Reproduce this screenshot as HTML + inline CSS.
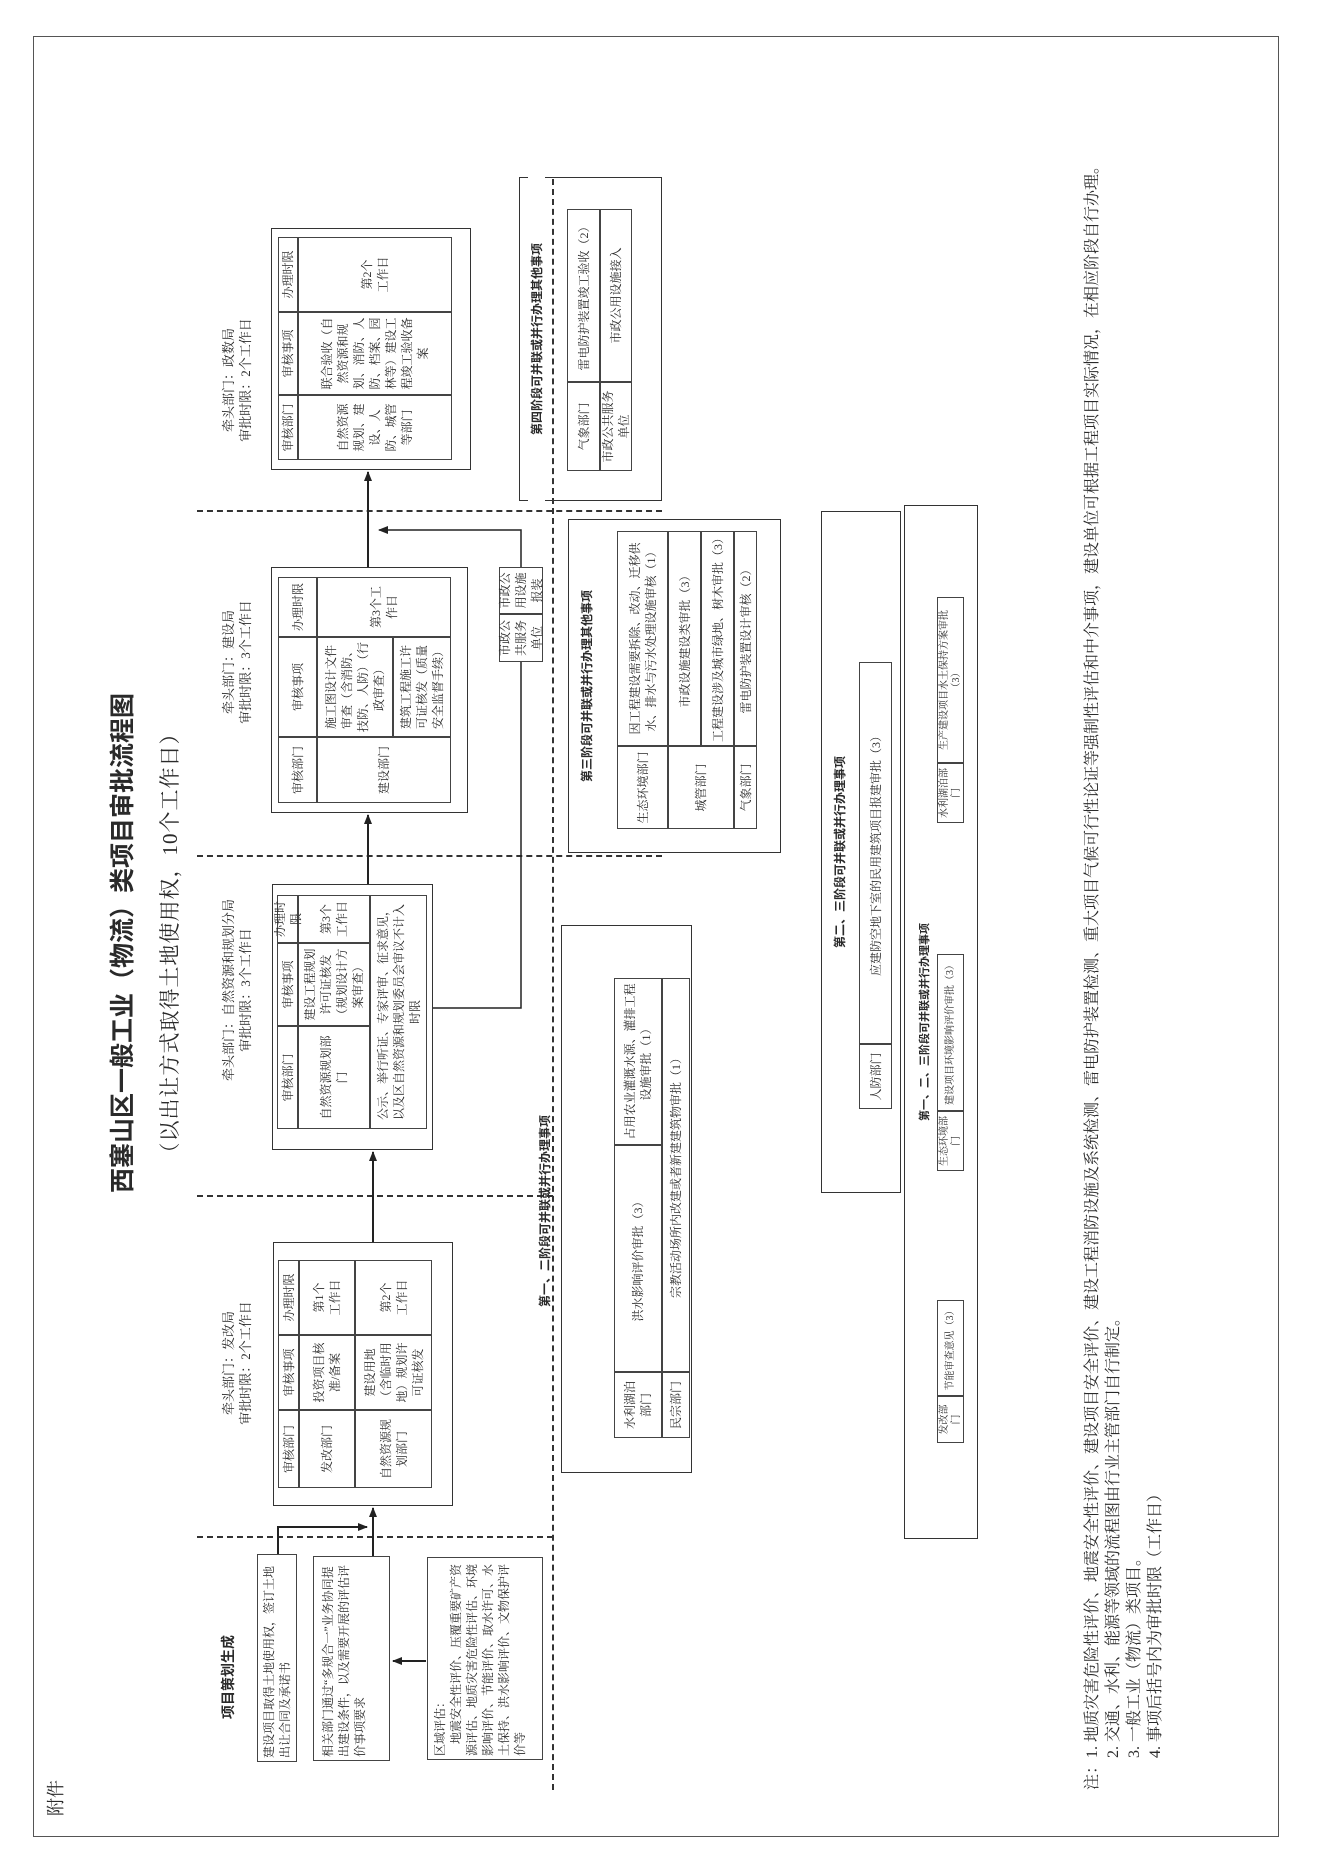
<!DOCTYPE html>
<html><head><meta charset="utf-8">
<style>
html,body{margin:0;padding:0;background:#fff;}
body{width:1324px;height:1871px;overflow:hidden;position:relative;}
#L{position:absolute;left:0;top:0;width:1871px;height:1324px;transform-origin:0 0;transform:translate(0,1871px) rotate(-90deg);font-family:"Liberation Serif","Noto Serif CJK SC",serif;color:#2a2a2a;}
.b{position:absolute;border:1.5px solid #333;box-sizing:border-box;}
.c{position:absolute;border:1px solid #444;box-sizing:border-box;display:flex;align-items:center;justify-content:center;text-align:center;font-size:12px;line-height:16px;padding:1px 3px;}
.t{position:absolute;text-align:center;white-space:nowrap;}
.lead{position:absolute;font-size:13px;line-height:17px;text-align:center;white-space:nowrap;}
.pt{position:absolute;font-family:"Liberation Sans","Noto Sans CJK SC",sans-serif;font-weight:bold;font-size:12px;white-space:nowrap;text-align:center;}
.sm{font-size:10px;line-height:12px;}
</style></head><body>
<div id="L">
<!-- outer border -->
<div class="b" style="left:34px;top:33px;width:1801px;height:1246px;border-color:#555;border-width:1px;"></div>
<div class="t" style="left:55px;top:42px;font-size:18px;">附件</div>
<div class="t" style="left:628px;top:103px;width:600px;font-family:'Liberation Sans','Noto Sans CJK SC',sans-serif;font-weight:bold;font-size:25px;">西塞山区一般工业（物流）类项目审批流程图</div>
<div class="t" style="left:628px;top:154px;width:600px;font-size:21px;letter-spacing:1px;">（以出让方式取得土地使用权，10个工作日）</div>

<!-- project planning -->
<div class="t" style="left:134px;top:218px;width:120px;font-family:'Liberation Sans','Noto Sans CJK SC',sans-serif;font-weight:bold;font-size:14px;">项目策划生成</div>
<div class="c" style="left:109px;top:257px;width:208px;height:40px;justify-content:flex-start;text-align:left;">建设项目取得土地使用权，签订土地出让合同及承诺书</div>
<div class="c" style="left:110px;top:313px;width:205px;height:77px;justify-content:flex-start;text-align:left;align-items:flex-start;padding-top:6px;">相关部门通过“多规合一”业务协同提出建设条件，以及需要开展的评估评价事项要求</div>
<div class="c" style="left:111px;top:427px;width:203px;height:116px;justify-content:flex-start;text-align:left;align-items:flex-start;padding-top:4px;">区域评估：<br>　地震安全性评价、压覆重要矿产资源评估、地质灾害危险性评估、环境影响评价、节能评价、取水许可、水土保持、洪水影响评价、文物保护评价等</div>

<!-- dashed lines -->
<div style="position:absolute;left:333px;top:197px;height:356px;border-left:2px dashed #333;"></div>
<div style="position:absolute;left:674px;top:197px;height:356px;border-left:2px dashed #333;"></div>
<div style="position:absolute;left:1014px;top:197px;height:465px;border-left:2px dashed #333;"></div>
<div style="position:absolute;left:1359px;top:197px;height:465px;border-left:2px dashed #333;"></div>
<div style="position:absolute;left:81px;top:552px;width:1611px;border-top:2px dashed #333;"></div>

<!-- stage 1 -->
<div class="lead" style="left:428px;top:220px;width:160px;">牵头部门：发改局<br>审批时限：2个工作日</div>
<div class="b" style="left:365px;top:273px;width:264px;height:180px;"></div>
<div class="c" style="left:383px;top:278px;width:78px;height:21px;">审核部门</div>
<div class="c" style="left:461px;top:278px;width:75px;height:21px;">审核事项</div>
<div class="c" style="left:536px;top:278px;width:75px;height:21px;">办理时限</div>
<div class="c" style="left:383px;top:299px;width:78px;height:56px;">发改部门</div>
<div class="c" style="left:461px;top:299px;width:75px;height:56px;">投资项目核准/备案</div>
<div class="c" style="left:536px;top:299px;width:75px;height:56px;">第1个<br>工作日</div>
<div class="c" style="left:383px;top:355px;width:78px;height:77px;">自然资源规划部门</div>
<div class="c" style="left:461px;top:355px;width:75px;height:77px;">建设用地（含临时用地）规划许可证核发</div>
<div class="c" style="left:536px;top:355px;width:75px;height:77px;">第2个<br>工作日</div>

<!-- stage 2 -->
<div class="lead" style="left:764px;top:220px;width:234px;">牵头部门：自然资源和规划分局<br>审批时限：3个工作日</div>
<div class="b" style="left:721px;top:272px;width:266px;height:161px;"></div>
<div class="c" style="left:742px;top:277px;width:103px;height:21px;">审核部门</div>
<div class="c" style="left:845px;top:277px;width:83px;height:21px;">审核事项</div>
<div class="c" style="left:928px;top:277px;width:48px;height:21px;">办理时限</div>
<div class="c" style="left:742px;top:298px;width:103px;height:72px;">自然资源规划部门</div>
<div class="c" style="left:845px;top:298px;width:83px;height:72px;">建设工程规划许可证核发（规划设计方案审查）</div>
<div class="c" style="left:928px;top:298px;width:48px;height:72px;">第3个<br>工作日</div>
<div class="c" style="left:742px;top:370px;width:234px;height:57px;">公示、举行听证、专家评审、征求意见，以及区自然资源和规划委员会审议不计入时限</div>

<!-- stage 3 -->
<div class="lead" style="left:1129px;top:220px;width:160px;">牵头部门：建设局<br>审批时限：3个工作日</div>
<div class="b" style="left:1058px;top:271px;width:246px;height:197px;"></div>
<div class="c" style="left:1068px;top:278px;width:66px;height:39px;">审核部门</div>
<div class="c" style="left:1134px;top:278px;width:100px;height:39px;">审核事项</div>
<div class="c" style="left:1234px;top:278px;width:60px;height:39px;">办理时限</div>
<div class="c" style="left:1068px;top:317px;width:66px;height:134px;">建设部门</div>
<div class="c" style="left:1134px;top:317px;width:100px;height:76px;">施工图设计文件审查（含消防、技防、人防）（行政审查）</div>
<div class="c" style="left:1134px;top:393px;width:100px;height:58px;">建筑工程施工许可证核发（质量安全监督手续）</div>
<div class="c" style="left:1234px;top:317px;width:60px;height:134px;">第3个工<br>作日</div>

<!-- stage 4 -->
<div class="lead" style="left:1411px;top:220px;width:160px;">牵头部门：政数局<br>审批时限：2个工作日</div>
<div class="b" style="left:1401px;top:271px;width:242px;height:200px;"></div>
<div class="c" style="left:1411px;top:278px;width:65px;height:20px;">审核部门</div>
<div class="c" style="left:1476px;top:278px;width:83px;height:20px;">审核事项</div>
<div class="c" style="left:1559px;top:278px;width:75px;height:20px;">办理时限</div>
<div class="c" style="left:1411px;top:298px;width:65px;height:154px;">自然资源规划、建设、人防、城管等部门</div>
<div class="c" style="left:1476px;top:298px;width:83px;height:154px;">联合验收（自然资源和规划、消防、人防、档案、园林等）建设工程竣工验收备案</div>
<div class="c" style="left:1559px;top:298px;width:75px;height:154px;">第2个<br>工作日</div>

<!-- municipal small box -->
<div class="c" style="left:1209px;top:499px;width:48px;height:44px;">市政公共服务单位</div>
<div class="c" style="left:1257px;top:499px;width:47px;height:44px;">市政公用设施报装</div>

<!-- stage 4 parallel -->
<div class="b" style="left:1370px;top:519px;width:324px;height:143px;border-width:1px;"></div>
<div class="pt" style="left:1370px;top:528px;width:324px;background:#fff;">第四阶段可并联或并行办理其他事项</div>
<div class="c" style="left:1400px;top:567px;width:89px;height:33px;">气象部门</div>
<div class="c" style="left:1489px;top:567px;width:173px;height:33px;">雷电防护装置竣工验收（2）</div>
<div class="c" style="left:1400px;top:600px;width:89px;height:32px;">市政公共服务单位</div>
<div class="c" style="left:1489px;top:600px;width:173px;height:32px;">市政公用设施接入</div>

<!-- stage 3 parallel -->
<div class="b" style="left:1018px;top:568px;width:334px;height:213px;border-width:1px;"></div>
<div class="pt" style="left:1018px;top:578px;width:334px;">第三阶段可并联或并行办理其他事项</div>
<div class="c" style="left:1042px;top:617px;width:83px;height:51px;">生态环境部门</div>
<div class="c" style="left:1125px;top:617px;width:215px;height:51px;">因工程建设需要拆除、改动、迁移供水、排水与污水处理设施审核（1）</div>
<div class="c" style="left:1042px;top:668px;width:83px;height:66px;">城管部门</div>
<div class="c" style="left:1125px;top:668px;width:215px;height:33px;">市政设施建设类审批（3）</div>
<div class="c" style="left:1125px;top:701px;width:215px;height:33px;">工程建设涉及城市绿地、树木审批（3）</div>
<div class="c" style="left:1042px;top:734px;width:83px;height:23px;">气象部门</div>
<div class="c" style="left:1125px;top:734px;width:215px;height:23px;">雷电防护装置设计审核（2）</div>

<!-- stage 1-2 parallel -->
<div class="pt" style="left:520px;top:536px;width:280px;">第一、二阶段可并联或并行办理事项</div>
<div class="b" style="left:398px;top:561px;width:548px;height:131px;border-width:1px;"></div>
<div class="c" style="left:433px;top:614px;width:66px;height:48px;">水利湖泊部门</div>
<div class="c" style="left:499px;top:614px;width:227px;height:48px;">洪水影响评价审批（3）</div>
<div class="c" style="left:726px;top:614px;width:167px;height:48px;">占用农业灌溉水源、灌排工程设施审批（1）</div>
<div class="c" style="left:433px;top:662px;width:66px;height:28px;">民宗部门</div>
<div class="c" style="left:499px;top:662px;width:394px;height:28px;">宗教活动场所内改建或者新建建筑物审批（1）</div>

<!-- stage 2-3 parallel -->
<div class="b" style="left:678px;top:821px;width:682px;height:80px;border-width:1px;"></div>
<div class="pt" style="left:678px;top:831px;width:682px;">第二、三阶段可并联或并行办理事项</div>
<div class="c" style="left:762px;top:859px;width:65px;height:33px;">人防部门</div>
<div class="c" style="left:827px;top:859px;width:382px;height:33px;">应建防空地下室的民用建筑项目报建审批（3）</div>

<!-- stage 1-2-3 parallel -->
<div class="b" style="left:332px;top:904px;width:1034px;height:74px;border-width:1.5px;"></div>
<div class="pt" style="left:332px;top:916px;width:1034px;font-size:11px;">第一、二、三阶段可并联或并行办理事项</div>
<div class="c sm" style="left:428px;top:937px;width:47px;height:27px;">发改部门</div>
<div class="c sm" style="left:475px;top:937px;width:96px;height:27px;">节能审查意见（3）</div>
<div class="c sm" style="left:700px;top:937px;width:60px;height:27px;">生态环境部门</div>
<div class="c sm" style="left:760px;top:937px;width:157px;height:27px;">建设项目环境影响评价审批（3）</div>
<div class="c sm" style="left:1048px;top:937px;width:60px;height:27px;">水利湖泊部门</div>
<div class="c sm" style="left:1108px;top:937px;width:166px;height:27px;">生产建设项目水土保持方案审批（3）</div>

<!-- notes -->
<div style="position:absolute;left:81px;top:1082px;width:1720px;font-size:16px;line-height:21px;white-space:nowrap;">
注：1. 地质灾害危险性评价、地震安全性评价、建设项目安全评价、建设工程消防设施及系统检测、雷电防护装置检测、重大项目气候可行性论证等强制性评估和中介事项，建设单位可根据工程项目实际情况，在相应阶段自行办理。<br>
<span style="padding-left:32px">2. 交通、水利、能源等领域的流程图由行业主管部门自行制定。</span><br>
<span style="padding-left:32px">3. 一般工业（物流）类项目。</span><br>
<span style="padding-left:32px">4. 事项后括号内为审批时限（工作日）</span>
</div>

<!-- connectors -->
<svg style="position:absolute;left:0;top:0" width="1871" height="1324">
<defs><marker id="a" markerWidth="10" markerHeight="8" refX="9" refY="4" orient="auto" markerUnits="userSpaceOnUse"><path d="M0,0 L10,4 L0,8 z" fill="#222"/></marker></defs>
<g stroke="#222" stroke-width="2" fill="none">
<line x1="315" y1="373" x2="363" y2="373" marker-end="url(#a)"/>
<polyline points="317,278 344,278 344,367" marker-end="url(#a)"/>
<line x1="210" y1="426" x2="210" y2="393" marker-end="url(#a)"/>
<line x1="629" y1="373" x2="719" y2="373" marker-end="url(#a)"/>
<line x1="987" y1="368" x2="1056" y2="368" marker-end="url(#a)"/>
<line x1="1304" y1="368" x2="1399" y2="368" marker-end="url(#a)"/>
<polyline points="1304,521 1341,521 1341,379" marker-end="url(#a)" stroke-width="1.5"/>
<polyline points="863,433 863,521 1209,521" stroke-width="1.5"/>
</g>
</svg>
</div>
</body></html>
